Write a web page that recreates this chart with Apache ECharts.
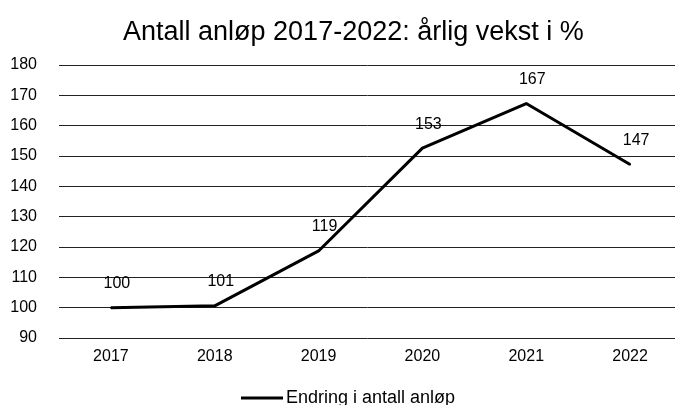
<!DOCTYPE html>
<html><head><meta charset="utf-8">
<script src="https://cdn.jsdelivr.net/npm/echarts@6/dist/echarts.min.js"></script>
<style>html,body{margin:0;padding:0;background:#fff}#c{width:675px;height:405px}</style>
</head><body><div id="c"></div>
<script>
const categories = ['2017','2018','2019','2020','2021','2022'];
const values = [100, 100.6, 118.7, 152.6, 167.3, 147.2];
const labels = ['100','101','119','153','167','147'];
const seriesName = 'Endring i antall anløp';
const titleText = 'Antall anløp 2017-2022: årlig vekst i %';

const FF = 'Liberation Sans, Arial, sans-serif';
const chart = echarts.init(document.getElementById('c'));
chart.setOption({
  backgroundColor: '#fff',
  animation: false,
  textStyle: { fontFamily: FF },
  title: { text: titleText, left: 118, top: 14,
    textStyle: { fontSize: 27, fontWeight: 'normal', color: '#000', fontFamily: FF } },
  grid: { left: 59, width: 623, top: 65, bottom: 67, containLabel: false, outerBoundsMode: 'none' },
  xAxis: { type: 'category', data: categories, boundaryGap: true,
    axisLine: { show: false }, axisTick: { show: false },
    axisLabel: { color: '#000', fontSize: 16, margin: 11 } },
  yAxis: { type: 'value', min: 90, max: 180, interval: 10,
    axisLine: { show: false }, axisTick: { show: false },
    axisLabel: { color: '#000', fontSize: 16, margin: 22 },
    splitLine: { lineStyle: { color: '#222', width: 1 } } },
  legend: { top: 389, left: 241, itemWidth: 42, itemHeight: 3, itemGap: 4,
    icon: 'rect', data: [seriesName], padding: 0,
    textStyle: { color: '#000', fontSize: 18, padding: [0,0,0,-2] } },
  series: [{ name: seriesName, type: 'line', data: values,
    symbol: 'circle', symbolSize: 2, showSymbol: true,
    lineStyle: { color: '#000', width: 3 }, itemStyle: { color: '#000' },
    label: { show: true, position: 'top', distance: 15, offset: [6, 0],
      color: '#000', fontSize: 16, fontFamily: FF,
      formatter: p => labels[p.dataIndex] } }]
});
</script></body></html>
